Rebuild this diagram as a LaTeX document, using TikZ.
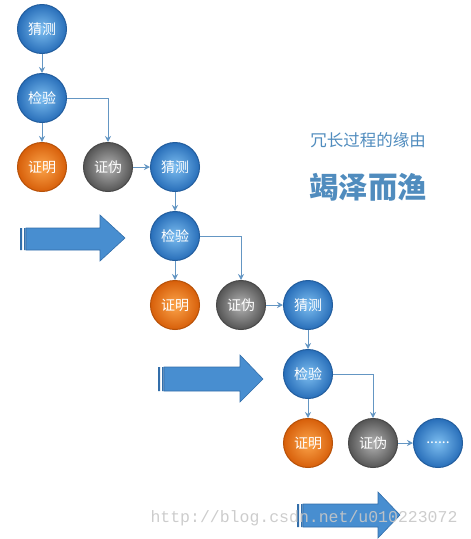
\documentclass[tikz,border=0pt]{standalone}
\usepackage{fontspec}
\newfontfamily\cjk{Noto Sans CJK SC}
\newfontfamily\wmfont{Liberation Mono}
\usetikzlibrary{arrows.meta, positioning}

\definecolor{ballblue}{RGB}{125,190,240}
\definecolor{balldeep}{RGB}{40,110,185}
\definecolor{ballorange}{RGB}{252,165,75}
\definecolor{orangedeep}{RGB}{215,95,10}
\definecolor{ballgray}{RGB}{180,180,180}
\definecolor{graydeep}{RGB}{85,85,85}
\definecolor{linkblue}{RGB}{100,150,195}
\definecolor{arrowblue}{RGB}{72,142,208}
\definecolor{arrowedge}{RGB}{50,110,170}
\definecolor{titleblue}{RGB}{80,140,190}

\begin{document}
\begin{tikzpicture}[x=1pt, y=-1pt, node distance=19pt]
        \tikzstyle{ball} = [circle, minimum size=49pt, inner sep=0pt, line width=1pt, text=white, font=\cjk\fontsize{14}{14}\selectfont]
        \tikzstyle{guess} = [ball, inner color=ballblue, outer color=balldeep, draw=balldeep!85!black]
        \tikzstyle{proof} = [ball, inner color=ballorange, outer color=orangedeep, draw=orangedeep!85!black]
        \tikzstyle{refute} = [ball, inner color=ballgray, outer color=graydeep, draw=graydeep!85!black]
        \tikzstyle{link} = [linkblue, line width=1pt, -{Stealth[length=6pt, width=6pt]}]
        \tikzstyle{fat} = [fill=arrowblue, draw=arrowedge, line width=0.6pt]

        \useasboundingbox (0,0) rectangle (471,539);

        % first round
        \node (g1) [guess] at (42,29) {猜测};
        \node (c1) [guess, below=of g1] {检验};
        \node (p1) [proof, below=of c1] {证明};
        \node (f1) [refute, right=16pt of p1] {证伪};
        \node (g2) [guess, right=17pt of f1] {猜测};

        % second round
        \node (c2) [guess, below=of g2] {检验};
        \node (p2) [proof, below=of c2] {证明};
        \node (f2) [refute, right=16pt of p2] {证伪};
        \node (g3) [guess, right=17pt of f2] {猜测};

        % third round
        \node (c3) [guess, below=of g3] {检验};
        \node (p3) [proof, below=of c3] {证明};
        \node (f3) [refute, right=15pt of p3] {证伪};
        \node (more) [guess, right=15pt of f3] {......};

        \draw [link] (g1) -- (c1);
        \draw [link] (c1) -- (p1);
        \draw [link] (c1.east) -| (f1.north);
        \draw [link] (f1) -- (g2);
        \draw [link] (g2) -- (c2);
        \draw [link] (c2) -- (p2);
        \draw [link] (c2.east) -| (f2.north);
        \draw [link] (f2) -- (g3);
        \draw [link] (g3) -- (c3);
        \draw [link] (c3) -- (p3);
        \draw [link] (c3.east) -| (f3.north);
        \draw [link] (f3) -- (more);

        % title
        \node (sub) [text=titleblue, font=\cjk\fontsize{16.5}{16.5}\selectfont] at (368,140) {冗长过程的缘由};
        \node (head) [text=titleblue, font=\cjk\bfseries\fontsize{29.5}{29.5}\selectfont] at (368,187) {竭泽而渔};

        % fat arrows
        \draw [fat] (26,228) -- (100,228) -- (100,215) -- (125,238) -- (100,261) -- (100,250) -- (26,250) -- cycle;
        \fill [arrowedge] (20,228) rectangle (22,250) (24,228) rectangle (25.5,250);
        \draw [fat] (164,367) -- (240,367) -- (240,355) -- (263,379) -- (240,402) -- (240,391) -- (164,391) -- cycle;
        \fill [arrowedge] (158,367) rectangle (160,391) (162,367) rectangle (163.5,391);
        \draw [fat] (303,504) -- (378,504) -- (378,492) -- (400,515) -- (378,538) -- (378,527) -- (303,527) -- cycle;
        \fill [arrowedge] (297,504) rectangle (299,527) (301,504) rectangle (302.5,527);

        % watermark
        \node (mark) [text=black!22, opacity=0.9, font=\wmfont\fontsize{16.5}{16.5}\selectfont, anchor=west] at (147,518) {http://blog.csdn.net/u010223072};
\end{tikzpicture}
\end{document}
